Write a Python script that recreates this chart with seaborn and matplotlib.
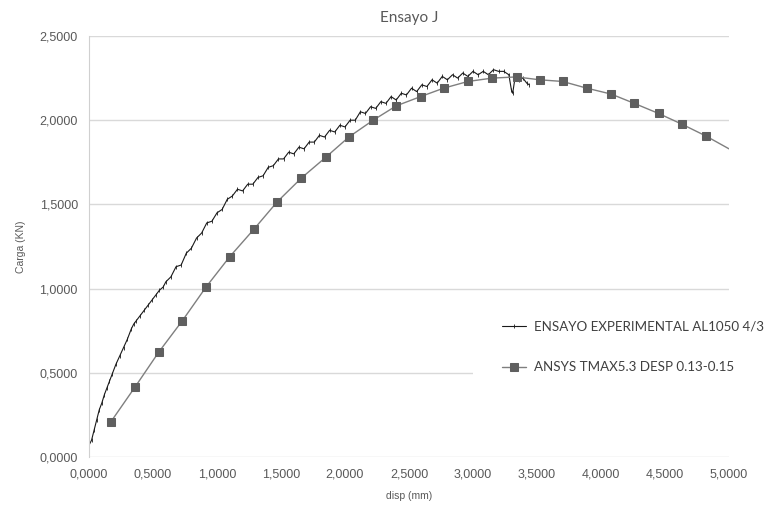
import matplotlib.pyplot as plt
import seaborn as sns
import pandas as pd
from matplotlib.patches import Rectangle

# ensayo experimental
exp_x = [0.00, 0.02, 0.04, 0.06, 0.08, 0.10, 0.12, 0.14, 0.16, 0.18, 0.21, 0.24, 0.27, 0.30,
         0.33, 0.35, 0.37, 0.40, 0.43, 0.46, 0.49, 0.52, 0.55, 0.58,
         0.60, 0.64, 0.68, 0.72, 0.76, 0.80, 0.84, 0.88, 0.92, 0.96, 1.00, 1.04, 1.08, 1.12,
         1.16, 1.20, 1.24, 1.28, 1.32, 1.36, 1.40, 1.44, 1.48, 1.52, 1.56, 1.60, 1.64, 1.68,
         1.72, 1.76, 1.80, 1.84, 1.88, 1.92, 1.96, 2.00, 2.04, 2.08, 2.12, 2.16, 2.20, 2.24,
         2.28, 2.32, 2.36, 2.40, 2.44, 2.48, 2.52, 2.56, 2.60, 2.64, 2.68, 2.72, 2.76, 2.80,
         2.84, 2.88, 2.92, 2.96, 3.00, 3.04, 3.08, 3.12, 3.16, 3.20, 3.24, 3.28,
         3.30, 3.31, 3.33, 3.36, 3.39, 3.42, 3.44]
exp_y = [0.07, 0.10, 0.16, 0.22, 0.28, 0.32, 0.37, 0.41, 0.45, 0.49, 0.55, 0.60, 0.65, 0.70,
         0.76, 0.79, 0.81, 0.84, 0.87, 0.90, 0.93, 0.96, 0.99, 1.01,
         1.04, 1.07, 1.13, 1.14, 1.21, 1.24, 1.30, 1.33, 1.39, 1.40, 1.45, 1.47, 1.53, 1.55,
         1.59, 1.58, 1.62, 1.62, 1.66, 1.67, 1.72, 1.73, 1.77, 1.77, 1.81, 1.80, 1.84, 1.83,
         1.87, 1.87, 1.91, 1.90, 1.94, 1.93, 1.97, 1.96, 2.00, 2.00, 2.05, 2.04, 2.08, 2.07,
         2.11, 2.10, 2.14, 2.12, 2.16, 2.15, 2.19, 2.17, 2.21, 2.20, 2.24, 2.22, 2.26, 2.24,
         2.27, 2.25, 2.28, 2.26, 2.29, 2.27, 2.29, 2.27, 2.30, 2.29, 2.29, 2.27,
         2.18, 2.16, 2.26, 2.24, 2.25, 2.22, 2.21]

# simulacion ANSYS
ansys_x = [0.17, 0.36, 0.545, 0.73, 0.915, 1.10, 1.29, 1.47, 1.66, 1.85, 2.03, 2.22, 2.40,
           2.59, 2.77, 2.96, 3.15, 3.34, 3.52, 3.70, 3.89, 4.08, 4.26, 4.45, 4.63, 4.82, 5.00]
ansys_y = [0.208, 0.416, 0.623, 0.81, 1.01, 1.19, 1.354, 1.515, 1.657, 1.78, 1.90, 2.00, 2.085,
           2.14, 2.19, 2.23, 2.25, 2.257, 2.24, 2.23, 2.19, 2.155, 2.10, 2.04, 1.977, 1.906, 1.83]

label_exp = 'ENSAYO EXPERIMENTAL AL1050 4/3'
label_ansys = 'ANSYS TMAX5.3 DESP 0.13-0.15'

sns.set_style('white')
plt.rcParams['font.family'] = ['Liberation Sans', 'DejaVu Sans']

fig = plt.figure(figsize=(7.73, 5.11), dpi=100)
ax = fig.add_axes([89 / 773, 1 - 457 / 511, 640 / 773, 421 / 511])

df_exp = pd.DataFrame({'x': exp_x, 'y': exp_y})
df_ans = pd.DataFrame({'x': ansys_x, 'y': ansys_y})

sns.lineplot(data=df_exp, x='x', y='y', ax=ax, sort=False, estimator=None,
             color='#1a1a1a', linewidth=0.8, marker='|', markersize=2.5,
             markeredgecolor='#1a1a1a', markeredgewidth=0.6, label=label_exp)
sns.lineplot(data=df_ans, x='x', y='y', ax=ax, sort=False, estimator=None,
             color='#7f7f7f', linewidth=1.0, marker='s', markersize=5.5,
             markerfacecolor='#5f5f5f', markeredgecolor='#5f5f5f',
             markevery=list(range(len(ansys_x) - 1)), label=label_ansys)

ax.set_xlim(0, 5)
ax.set_ylim(0, 2.5)
ax.set_xticks([i * 0.5 for i in range(11)])
ax.set_yticks([i * 0.5 for i in range(6)])
ax.set_xticklabels([f'{i * 0.5:.4f}'.replace('.', ',') for i in range(11)])
ax.set_yticklabels([f'{i * 0.5:.4f}'.replace('.', ',') for i in range(6)])
ax.tick_params(axis='both', labelsize=9, labelcolor='#595959', length=0, pad=8)
ax.yaxis.grid(True, color='#d9d9d9', linewidth=1)
ax.set_axisbelow(True)
for s in ['top', 'right', 'bottom']:
    ax.spines[s].set_visible(False)
ax.spines['left'].set_color('#d0d0d0')

ax.set_xlabel('disp (mm)', fontsize=7.5, color='#595959', labelpad=8)
ax.set_ylabel('Carga (KN)', fontsize=7.5, color='#595959', labelpad=10)
ax.set_title('Ensayo J', fontsize=11, color='#595959', pad=10, family=['Lato', 'DejaVu Sans'])

# white legend area hiding the grid line behind it
ax.add_patch(Rectangle((473 / 773, 1 - 400 / 511), 300 / 773, 100 / 511,
                       transform=fig.transFigure, facecolor='white', edgecolor='none',
                       clip_on=False, zorder=1))

ax.get_legend().remove()
h, l = ax.get_legend_handles_labels()
leg = fig.legend(h, l, loc='center left', bbox_to_anchor=(502 / 773, 1 - 347 / 511),
                 frameon=False, labelspacing=2.15, handlelength=1.8, borderpad=0,
                 borderaxespad=0, handletextpad=0.6,
                 prop={'family': ['Lato', 'DejaVu Sans'], 'size': 9.6})
for t in leg.get_texts():
    t.set_color('#404040')

fig.savefig('out.png', dpi=100)
